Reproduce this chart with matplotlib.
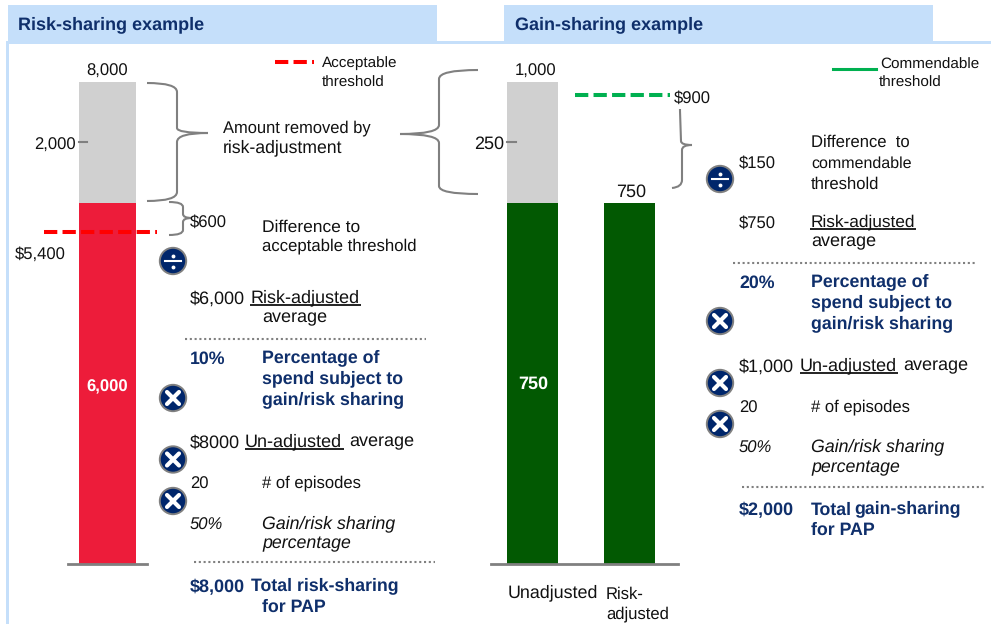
import matplotlib
matplotlib.use("Agg")
import matplotlib.pyplot as plt
from matplotlib.patches import Circle, PathPatch, Rectangle
from matplotlib.path import Path

plt.rcParams['font.family'] = ['Liberation Sans', 'DejaVu Sans']
plt.rcParams['text.hinting'] = 'none'
plt.rcParams['text.hinting_factor'] = 8

W, H = 991, 624
NAVY = "#0F2F6B"
HEAD = "#C5DFFA"
GREY = "#808080"

# Risk-sharing bar
risk_adjusted = [6000]
risk_removed = [2000]
risk_threshold_line = [5510]  # where the dashes sit on the picture

# Gain-sharing bars
gain_adjusted = [750, 750]
gain_removed = [250, 0]
gain_threshold_line = [972]
gain_cats = ["Unadjusted", "Risk-", "adjusted"]

# Text
titles = ["Risk-sharing example", "Gain-sharing example"]
legend_risk = ["Acceptable", "threshold"]
legend_gain = ["Commendable", "threshold"]
brace_text = ["Amount removed by", "risk-adjustment"]
pct_lines = ["Percentage of", "spend subject to", "gain/risk sharing"]
share_lines = ["Gain/risk sharing", "percentage"]

fig = plt.figure(figsize=(W / 100, H / 100), dpi=100)

# overlay in pixel coords for panel, notes and icons
ov = fig.add_axes([0, 0, 1, 1], zorder=1)
ov.set_xlim(0, W)
ov.set_ylim(H, 0)
ov.axis("off")

ov.add_patch(Rectangle((6, 41), W - 6, 2.5, color=HEAD, lw=0))
ov.add_patch(Rectangle((6, 41), 2.5, H - 41, color=HEAD, lw=0))
ov.add_patch(Rectangle((8, 5), 429, 38, color=HEAD, lw=0))
ov.add_patch(Rectangle((504, 5), 429, 38, color=HEAD, lw=0))


def bar_axes(left, right, top, bottom, ymax):
    ax = fig.add_axes([left / W, 1 - bottom / H, (right - left) / W, (bottom - top) / H], zorder=0)
    ax.patch.set_alpha(0)
    ax.set_ylim(0, ymax)
    for s in ["top", "left", "right"]:
        ax.spines[s].set_visible(False)
    ax.spines["bottom"].set_color(GREY)
    ax.spines["bottom"].set_linewidth(2)
    ax.set_xticks([])
    ax.set_yticks([])
    return ax


# left chart
ax1 = bar_axes(68, 147, 82, 564, sum(risk_adjusted + risk_removed))
ax1.set_xlim(-0.5, 0.5)
ax1.bar([0], risk_adjusted, width=57 / 79, color="#ED1C3A")
ax1.bar([0], risk_removed, bottom=risk_adjusted, width=57 / 79, color="#D0D0D0")
ax1.plot([-0.36, -0.26], [risk_adjusted[0] + risk_removed[0] / 2] * 2, color=GREY, lw=1.5)
ax1.plot([-0.804, 0.627], risk_threshold_line * 2, color="#FF0000", lw=2.9,
         dashes=(3.3, 1.3), clip_on=False, dash_capstyle="butt")

# right chart
ax2 = bar_axes(491, 678, 82, 564, gain_adjusted[0] + gain_removed[0])
ax2.set_xlim(-41.5 / 97, 145.5 / 97)
ax2.bar([0, 1], gain_adjusted, width=51 / 97, color="#025902")
ax2.bar([0, 1], gain_removed, bottom=gain_adjusted, width=51 / 97, color="#D0D0D0")
ax2.plot([-25.5 / 97, -16.5 / 97], [gain_adjusted[0] + gain_removed[0] / 2] * 2, color=GREY, lw=1.5)
ax2.plot([42.5 / 97, 137.5 / 97], gain_threshold_line * 2, color="#00B050", lw=2.9,
         dashes=(3.3, 1.3), dash_capstyle="butt")


def note(x, y, s, size=12, color="#111111", ha="left", **kw):
    # y is the middle of the capitals, text sits on its baseline
    # strings with no descender land a bit high in agg, so nudge them
    off = 5.2 if any(c in s for c in "gjpqy") else 6.8
    ov.text(x, y + off, s, fontsize=size, color=color, ha=ha, va="baseline", zorder=5, **kw)


def bold(x, y, s, size=12.8):
    note(x, y, s, size=size, color=NAVY, fontweight="bold")


def rule(x0, x1, y):
    ov.plot([x0, x1], [y, y], color="#111111", lw=1.3, solid_capstyle="butt")


def dots(x0, x1, y):
    ov.plot([x0, x1], [y, y], color=GREY, lw=1.5, dashes=(1, 1.3))


def curve(points):
    # start, ctrl, end, line to, ctrl, end
    codes = [Path.MOVETO, Path.CURVE3, Path.CURVE3, Path.LINETO, Path.CURVE3, Path.CURVE3]
    ov.add_patch(PathPatch(Path(points, codes), fc="none", ec=GREY, lw=1.5))


def icon(x, y, kind):
    ov.add_patch(Circle((x, y), 13.2, fc="#00266B", ec=GREY, lw=1.4, zorder=6))
    if kind == "x":
        d = 6
        ov.plot([x - d, x + d], [y - d, y + d], color="white", lw=3, zorder=7, solid_capstyle="round")
        ov.plot([x - d, x + d], [y + d, y - d], color="white", lw=3, zorder=7, solid_capstyle="round")
    else:
        ov.plot([x - 8, x + 8], [y, y], color="white", lw=1.5, zorder=7)
        ov.plot([x, x], [y - 5.5, y + 5.5], ls="none", marker="o", ms=2.8, color="white", mew=0, zorder=7)


# header titles
bold(18, 24, titles[0], size=13)
bold(515, 24, titles[1], size=13)

# bar labels
note(107.5, 69, f"{sum(risk_adjusted + risk_removed):,}", ha="center")
note(76, 143, f"{risk_removed[0]:,}", ha="right")
note(107.5, 385, f"{risk_adjusted[0]:,}", color="white", ha="center", fontweight="bold")
note(535.5, 69, f"{gain_adjusted[0] + gain_removed[0]:,}", ha="center")
note(504, 142, f"{gain_removed[0]:,}", ha="right", size=13)
note(533, 382, f"{gain_adjusted[0]:,}", color="white", ha="center", fontweight="bold", size=13)
note(631, 190, f"{gain_adjusted[1]:,}", ha="center", size=13)
note(508, 592, gain_cats[0], size=12.9)
note(606, 592, gain_cats[1])
note(606, 613, gain_cats[2])

# legends
ov.plot([275, 314], [62, 62], color="#FF0000", lw=2.9, dashes=(3.3, 1.3), dash_capstyle="butt")
note(322, 62, legend_risk[0], size=11)
note(322, 80, legend_risk[1], size=11)
ov.plot([833, 876], [68.5, 68.5], color="#00B050", lw=2.2)
note(880, 62, legend_gain[0], size=11)
note(879, 80, legend_gain[1], size=11)

# braces
curve([(147, 83), (177, 83), (177, 92), (177, 128), (177, 133), (208, 133)])
curve([(208, 133), (177, 133), (177, 142), (177, 192), (177, 201), (147, 201)])
curve([(478, 70), (439, 70), (439, 79), (439, 125), (439, 134), (400, 134)])
curve([(400, 134), (439, 134), (439, 143), (439, 186), (439, 194), (478, 194)])
curve([(169, 202), (183, 202), (183, 207), (183, 214), (183, 218), (192, 218)])
curve([(192, 218), (183, 218), (183, 222), (183, 230), (183, 235), (169, 235)])
curve([(680, 109), (680, 110), (680, 111), (681, 141), (681, 145), (692, 145)])
curve([(692, 145), (682, 145), (682, 150), (682, 180), (682, 187), (672, 188)])

note(223, 127, brace_text[0], size=11.9)
note(223, 147, brace_text[1], size=12.7)

# left working
note(15, 252, "$5,400")
note(190, 220, "$600")
note(262, 225, "Difference to", size=12.5)
note(262, 245, "acceptable threshold", size=12.1)
note(190, 297, "$6,000", size=13)
note(251, 297, "Risk-adjusted", size=13)
rule(250, 361, 305)
note(262, 317, "average", size=13)
dots(185, 426, 338.5)
bold(190, 357, "10%")
for y, s in zip([357, 378, 399], pct_lines):
    bold(262, y, s)
note(190, 441, "$8000", size=13)
note(245, 441, "Un-adjusted", size=13)
rule(245, 344, 449)
note(349, 441, "average", size=13)
note(190, 482, "20")
note(262, 482, "# of episodes")
note(190, 523, "50%", style="italic")
for y, s in zip([523, 543], share_lines):
    note(262, y, s, style="italic", size=12.8)
dots(194, 435, 562)
bold(190, 585, "$8,000", size=13)
bold(251, 585, "Total risk-sharing")
bold(262, 605, "for PAP")

# right working
note(674, 96, "$900")
note(811, 140, "Difference  to")
note(811, 161, "commendable", size=11.5)
note(811, 182, "threshold")
note(739, 161, "$150")
note(739, 221, "$750")
note(811, 221, "Risk-adjusted", size=12.4)
rule(810, 916, 229)
note(811, 241, "average", size=13)
dots(733, 975, 263)
bold(739, 281, "20%")
for y, s in zip([281, 302, 323], pct_lines):
    bold(811, y, s)
note(739, 365, "$1,000", size=13)
note(800, 365, "Un-adjusted", size=13)
rule(800, 898, 373)
note(903, 365, "average", size=13)
note(739, 406, "20")
note(811, 406, "# of episodes")
note(739, 446, "50%", style="italic")
for y, s in zip([446, 467], share_lines):
    note(811, y, s, style="italic", size=12.8)
dots(742, 984, 487)
bold(739, 508, "$2,000", size=13)
bold(811, 508, "Total")
bold(854, 508, "gain-sharing")
bold(811, 528, "for PAP")

# operators
icon(173, 261, "div")
icon(173, 398, "x")
icon(173, 459.5, "x")
icon(173, 501, "x")
icon(720, 179, "div")
icon(720, 321, "x")
icon(720, 383, "x")
icon(720, 424, "x")

fig.savefig("out.png", dpi=100)
